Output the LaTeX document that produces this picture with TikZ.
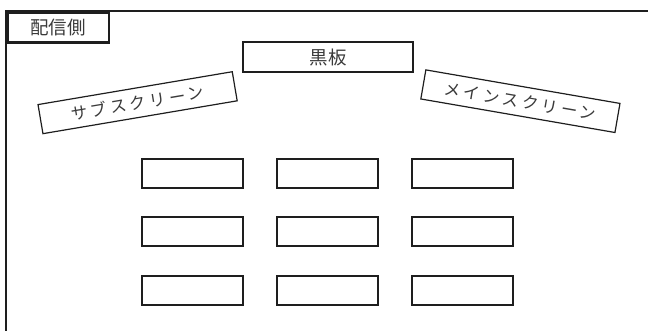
\documentclass[tikz,border=0pt]{standalone}
\usepackage{fontspec}
\setmainfont{Noto Sans CJK JP}
\newfontfamily\scrfont[LetterSpace=20]{Noto Sans CJK JP}
\definecolor{txt}{HTML}{3A3A3A}
\definecolor{ln}{HTML}{1E1E1E}
\begin{document}
\begin{tikzpicture}[x=1pt,y=-1pt,
  labelbox/.style={draw=ln, line width=2.2pt, inner sep=0pt, text=txt,
    font=\fontsize{18.5}{18.5}\selectfont, minimum height=30pt},
  seat/.style={draw=ln, line width=2pt, inner sep=0pt, minimum width=101pt, minimum height=29pt},
  screen/.style={draw=ln, line width=1.2pt, inner sep=0pt, text=txt,
    font=\scrfont\fontsize{16.5}{16.5}\selectfont, minimum width=197pt, minimum height=29.5pt}]
\useasboundingbox (0,0) rectangle (648,331);
% outer frame (top and left edges)
\draw[ln, line width=1.8pt] (648,11) -- (6,11) -- (6,331);
% label box
\node[labelbox, minimum width=101pt, anchor=north west] (side) at (6.5,11.5) {配信側};
% blackboard
\node[labelbox, minimum width=170pt, line width=2pt] (board) at (328,57.5) {黒板};
% screens
\node[screen, rotate=9.6] (sub) at (137.6,102.7) {サブスクリーン};
\node[screen, rotate=-9.8] (main) at (520.4,101.2) {メインスクリーン};
% seats
\foreach \c/\x in {1/192.8,2/327.8,3/462.8}{
  \foreach \r/\y in {1/173.3,2/231.7,3/290.3}{
    \node[seat] (s\r\c) at (\x,\y) {};
  }
}
\end{tikzpicture}
\end{document}
